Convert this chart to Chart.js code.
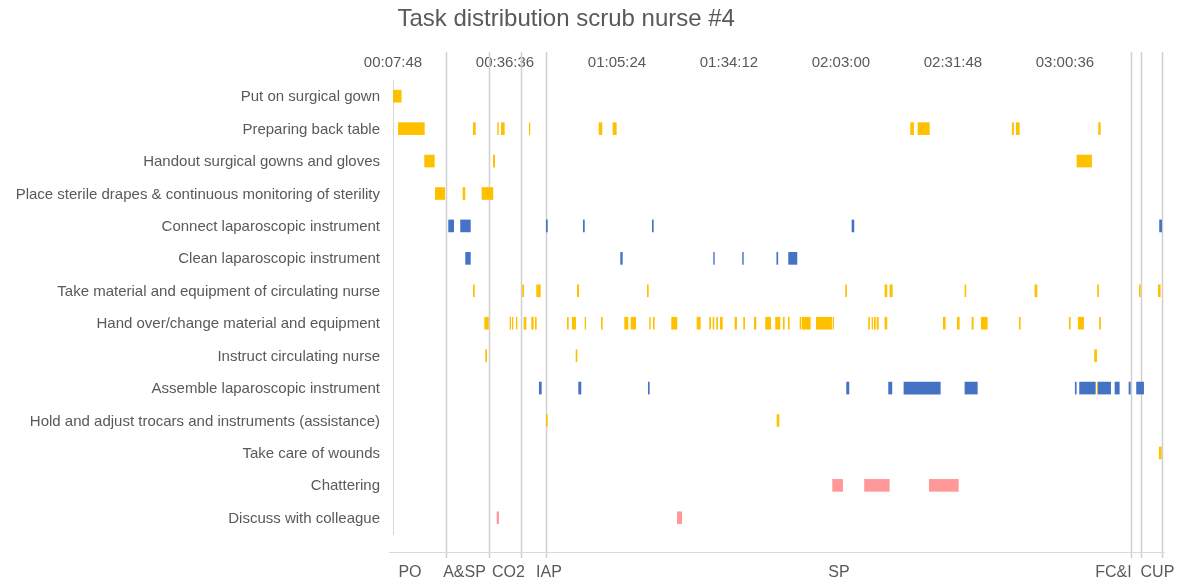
<!DOCTYPE html>
<html>
<head>
<meta charset="utf-8">
<title>Task distribution scrub nurse #4</title>
<script src="https://cdn.jsdelivr.net/npm/chart.js@4.4.1/dist/chart.umd.min.js"></script>
<style>
  html, body { margin: 0; padding: 0; background: #fff; }
</style>
</head>
<body>
<canvas id="myChart" width="1182" height="582"></canvas>
<script>
// all times in seconds from the start of the recording
var chartTitle = "Task distribution scrub nurse #4";
var taskNames = [
    "Put on surgical gown",
    "Preparing back table",
    "Handout surgical gowns and gloves",
    "Place sterile drapes & continuous monitoring of sterility",
    "Connect laparoscopic instrument",
    "Clean laparoscopic instrument",
    "Take material and equipment of circulating nurse",
    "Hand over/change material and equipment",
    "Instruct circulating nurse",
    "Assemble laparoscopic instrument",
    "Hold and adjust trocars and instruments (assistance)",
    "Take care of wounds",
    "Chattering",
    "Discuss with colleague"
];

var yellow = "#FFC000";
var blue = "#4472C4";
var pink = "#FF9999";
var taskColors = [yellow, yellow, yellow, yellow, blue, blue, yellow, yellow, yellow, blue, yellow, yellow, pink, pink];

var putOnGown = [[468, 600]];
var backTable = [[545, 957], [1702, 1744], [2077, 2099], [2134, 2191], [2566, 2586], [3642, 3697], [3858, 3919],
    [8449, 8506], [8563, 8749], [10018, 10049], [10080, 10137], [11350, 11387]];
var handoutGowns = [[951, 1111], [2011, 2042], [11016, 11252]];
var sterileDrapes = [[1116, 1270], [1543, 1583], [1836, 2015]];
var connectInstr = [[1321, 1409], [1506, 1667], [2829, 2855], [3399, 3426], [4464, 4490], [7545, 7585], [12291, 12333]];
var cleanInstr = [[1583, 1667], [3975, 4012], [5410, 5431], [5857, 5879], [6385, 6411], [6567, 6706]];
var takeMaterial = [[1702, 1729], [2463, 2489], [2679, 2747], [3307, 3338], [4387, 4413], [7446, 7472], [8054, 8094],
    [8131, 8178], [9288, 9313], [10368, 10409], [11334, 11360], [11978, 12004], [12271, 12312]];
var handOver = [[1877, 1945], [2268, 2289], [2304, 2324], [2366, 2386], [2484, 2525], [2602, 2639], [2659, 2685],
    [3153, 3179], [3230, 3291], [3426, 3446], [3677, 3703], [4037, 4098], [4135, 4217], [4422, 4444], [4479, 4505],
    [4762, 4854], [5154, 5215], [5348, 5374], [5400, 5425], [5456, 5482], [5513, 5555], [5740, 5775], [5873, 5899],
    [6038, 6073], [6212, 6300], [6366, 6443], [6485, 6511], [6562, 6588], [6743, 6768], [6778, 6912], [6994, 7241],
    [7252, 7272], [7801, 7827], [7854, 7874], [7889, 7915], [7931, 7962], [8054, 8094], [8954, 8995], [9170, 9211],
    [9396, 9427], [9540, 9643], [10126, 10152], [10898, 10924], [11036, 11129], [11365, 11391]];
var instructNurse = [[1892, 1918], [3287, 3312], [11288, 11330]];
var assembleInstr = [[2720, 2762], [3327, 3373], [4402, 4428], [7462, 7508], [8110, 8171], [8347, 8918], [9288, 9489],
    [10990, 11016], [11057, 11310], [11345, 11546], [11603, 11680], [11819, 11850], [11936, 12055]];
var assembleYellow = [[11330, 11360]];
var holdTrocars = [[2829, 2855], [6388, 6428]];
var woundCare = [[12286, 12328]];
var chattering = [[7246, 7411], [7739, 8131], [8738, 9196]];
var discuss = [[2068, 2103], [4850, 4927]];

var taskBars = [putOnGown, backTable, handoutGowns, sterileDrapes, connectInstr, cleanInstr, takeMaterial,
    handOver, instructNurse, assembleInstr, holdTrocars, woundCare, chattering, discuss];

var tickLabels = ["00:07:48", "00:36:36", "01:05:24", "01:34:12", "02:03:00", "02:31:48", "03:00:36"];
var axisMin = 468;
var axisMax = 12380;

// surgical phases: boundaries and where the names sit
var phaseBounds = [1281, 1949, 2438, 2829, 11850, 12004, 12337];
var phaseNames = ["PO", "A&SP", "CO2", "IAP", "SP", "FC&I", "CUP"];
var phaseLabelAt = [730, 1571, 2250, 2875, 7349, 11584, 12263];

var fontFamily = '"Liberation Sans", Arial, sans-serif';
var textColor = "#595959";

function toSec(s)
{
    var p = s.split(":");
    return (+p[0]) * 3600 + (+p[1]) * 60 + (+p[2]);
}

function pad(n)
{
    return (n < 10 ? "0" : "") + n;
}

function toClock(v)
{
    v = Math.round(v);
    return pad(Math.floor(v / 3600)) + ":" + pad(Math.floor(v % 3600 / 60)) + ":" + pad(v % 60);
}

var datasets = taskNames.map(function (name, i)
{
    return {
        label: name,
        data: taskBars[i].map(function (b) { return {x: b, y: name}; }),
        backgroundColor: taskColors[i]
    };
});
datasets.push({
    label: taskNames[9],
    data: assembleYellow.map(function (b) { return {x: b, y: taskNames[9]}; }),
    backgroundColor: yellow
});

var phasePlugin = {
    id: "phases",
    beforeDatasetsDraw: function (chart)
    {
        var ctx = chart.ctx;
        var xs = chart.scales.x;
        var area = chart.chartArea;
        ctx.save();

        // title sits a little left of centre, over the whole figure
        ctx.fillStyle = textColor;
        ctx.font = "24px " + fontFamily;
        ctx.textAlign = "center";
        ctx.textBaseline = "middle";
        ctx.fillText(chartTitle, chart.width * 0.479, 19);

        ctx.strokeStyle = "#d0d0d0";
        ctx.lineWidth = 1.5;
        phaseBounds.forEach(function (t)
        {
            var px = Math.round(xs.getPixelForValue(t)) + 0.5;
            ctx.beginPath();
            ctx.moveTo(px, area.top - 28);
            ctx.lineTo(px, area.bottom + 24);
            ctx.stroke();
        });
        // phase axis under the plot
        ctx.lineWidth = 1;
        ctx.strokeStyle = "#d9d9d9";
        ctx.beginPath();
        ctx.moveTo(area.left - 4, area.bottom + 18.5);
        ctx.lineTo(area.right, area.bottom + 18.5);
        ctx.stroke();
        ctx.font = "16px " + fontFamily;
        phaseNames.forEach(function (name, i)
        {
            ctx.fillText(name, xs.getPixelForValue(phaseLabelAt[i]), area.bottom + 39);
        });
        ctx.restore();
    }
};

var canvas = document.getElementById("myChart");
var myChart = new Chart(canvas.getContext("2d"),
{
    type: "bar",
    data:
    {
        labels: taskNames,
        datasets: datasets
    },
    options:
    {
        indexAxis: "y",
        responsive: false,
        animation: false,
        layout: {padding: {left: 0, right: 17, top: 0, bottom: 48}},
        datasets:
        {
            bar: {grouped: false, categoryPercentage: 1, barPercentage: 0.39}
        },
        plugins:
        {
            legend: {display: false},
            tooltip: {enabled: false},
            title: {display: false}
        },
        scales:
        {
            x:
            {
                type: "linear",
                position: "top",
                min: axisMin,
                max: axisMax,
                grid: {display: false, drawTicks: false},
                border: {display: false},
                afterBuildTicks: function (axis)
                {
                    axis.ticks = tickLabels.map(function (s) { return {value: toSec(s)}; });
                },
                afterFit: function (axis) { axis.height = 80; },
                ticks:
                {
                    color: textColor,
                    font: {family: fontFamily, size: 15},
                    padding: 8,
                    maxRotation: 0,
                    autoSkip: false,
                    callback: function (v) { return toClock(v); }
                }
            },
            y:
            {
                grid: {display: false, drawTicks: false},
                border: {display: true, color: "#d9d9d9", width: 1},
                afterFit: function (axis) { axis.width = 393; },
                ticks:
                {
                    color: textColor,
                    font: {family: fontFamily, size: 15},
                    padding: 13,
                    labelOffset: 1,
                    autoSkip: false
                }
            }
        }
    },
    plugins: [phasePlugin]
});
</script>
</body>
</html>
